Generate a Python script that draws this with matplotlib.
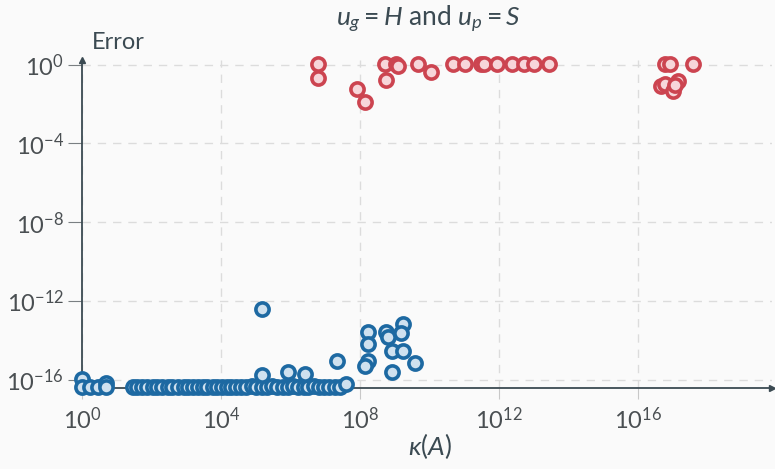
import matplotlib
matplotlib.use("Agg")
import matplotlib.pyplot as plt
import numpy as np

# values (log10 of kappa, log10 of error)
blue_kappa_log10 = [0.0, 0.0, 0.23, 0.46, 0.69, 0.69,
                    1.46, 1.58, 1.72, 1.88, 2.03, 2.16, 2.31, 2.47, 2.6, 2.77,
                    2.93, 3.05, 3.19, 3.33, 3.48, 3.6, 3.76, 3.88, 4.02, 4.17,
                    4.3, 4.44, 4.58, 4.73, 4.88, 5.02, 5.17, 5.33, 5.47, 5.6,
                    5.78, 5.93, 6.07, 6.22, 6.38, 6.52, 6.68, 6.83, 6.98, 7.12,
                    7.28, 7.42, 7.61,
                    5.17, 5.94, 6.43, 7.35, 5.17,
                    8.24, 8.24, 8.24, 8.15, 8.76, 8.81, 9.24, 9.19, 8.93, 9.24,
                    9.59, 8.93]
blue_error_log10 = [-15.95, -16.38, -16.38, -16.38, -16.15, -16.38,
                    -16.38, -16.37, -16.38, -16.38, -16.36, -16.38, -16.38, -16.37, -16.38, -16.38,
                    -16.36, -16.38, -16.38, -16.37, -16.38, -16.38, -16.36, -16.38, -16.38, -16.37,
                    -16.38, -16.36, -16.38, -16.38, -16.32, -16.38, -16.37, -16.38, -16.3, -16.38,
                    -16.36, -16.38, -16.32, -16.38, -16.37, -16.38, -16.33, -16.38, -16.36, -16.38,
                    -16.37, -16.38, -16.2,
                    -15.75, -15.59, -15.7, -15.04, -12.4,
                    -13.57, -14.17, -15.04, -15.29, -13.57, -13.82, -13.16, -13.62, -14.53, -14.53,
                    -15.14, -15.59]

red_kappa_log10 = [6.78, 6.78, 7.92, 8.15, 8.73, 9.04, 9.1, 8.76, 9.68, 10.05,
                   10.68, 11.03, 11.48, 11.57, 11.94, 12.37, 12.72, 13.03, 13.44,
                   16.8, 16.94, 17.6, 16.68, 16.8, 17.17, 17.03, 17.09]
red_error_log10 = [0.02, -0.69, -1.24, -1.9, 0.02, 0.02, -0.05, -0.77, 0.02, -0.38,
                   0.02, 0.02, 0.02, 0.02, 0.02, 0.02, 0.02, 0.02, 0.02,
                   0.02, 0.02, 0.02, -1.09, -1.0, -0.81, -1.32, -1.05]

x_ticks = [1e0, 1e4, 1e8, 1e12, 1e16]
x_tick_labels = [r"$10^{0}$", r"$10^{4}$", r"$10^{8}$", r"$10^{12}$", r"$10^{16}$"]
y_ticks = [1e-16, 1e-12, 1e-8, 1e-4, 1e0]
y_tick_labels = [r"$10^{-16}$", r"$10^{-12}$", r"$10^{-8}$", r"$10^{-4}$", r"$10^{0}$"]

ink = "#3b4a52"
plt.rcParams["font.family"] = ["Lato", "DejaVu Sans"]
plt.rcParams["mathtext.fontset"] = "custom"
plt.rcParams["mathtext.rm"] = "Lato"
plt.rcParams["mathtext.it"] = "Lato:italic"
plt.rcParams["mathtext.fallback"] = "stixsans"

fig = plt.figure(figsize=(7.75, 4.69), dpi=100, facecolor="#fafafa")
ax = fig.add_axes([0.106, 0.173, 0.890, 0.699])
ax.set_facecolor("#fafafa")

ax.plot(10 ** np.array(blue_kappa_log10), 10 ** np.array(blue_error_log10),
        "o", ms=9.5, mew=2.6, mec="#1d69a2", mfc="#cfe1ef", clip_on=False, zorder=3)
ax.plot(10 ** np.array(red_kappa_log10), 10 ** np.array(red_error_log10),
        "o", ms=9.5, mew=2.6, mec="#cc4450", mfc="#f7d6da", clip_on=False, zorder=3)

ax.set_xscale("log")
ax.set_yscale("log")
ax.set_xlim(1, 10 ** 19.87)
ax.set_ylim(10 ** -16.4, 10 ** 0.23)
ax.set_xticks(x_ticks)
ax.set_xticklabels(x_tick_labels)
ax.set_yticks(y_ticks)
ax.set_yticklabels(y_tick_labels)
ax.minorticks_off()
ax.tick_params(axis="x", length=8, color="#c8c8c8", labelsize=17, labelcolor="#4a4f52", pad=5)
ax.tick_params(axis="y", length=10, color="#7a7f82", labelsize=17, labelcolor="#4a4f52", pad=3)
ax.grid(True, ls=(0, (6, 5)), color="#dcdcdc", lw=1)
ax.set_axisbelow(True)

for side in ["top", "right"]:
    ax.spines[side].set_visible(False)
for side in ["left", "bottom"]:
    ax.spines[side].set_color(ink)
    ax.spines[side].set_linewidth(1.3)
ax.plot(1, 0, ">", color=ink, ms=5, transform=ax.transAxes, clip_on=False)
ax.plot(0, 1, "^", color=ink, ms=5, transform=ax.transAxes, clip_on=False)

fig.text(0.118, 0.887, "Error", fontsize=17, color=ink, ha="left", va="bottom")
fig.text(0.555, 0.018, r"$\kappa(A)$", fontsize=19, color=ink, ha="center", va="bottom")
fig.text(0.553, 0.945, r"$u_g = H$ and $u_p = S$", fontsize=19, color=ink,
         ha="center", va="baseline")

fig.savefig("out.png", dpi=100, facecolor=fig.get_facecolor())
